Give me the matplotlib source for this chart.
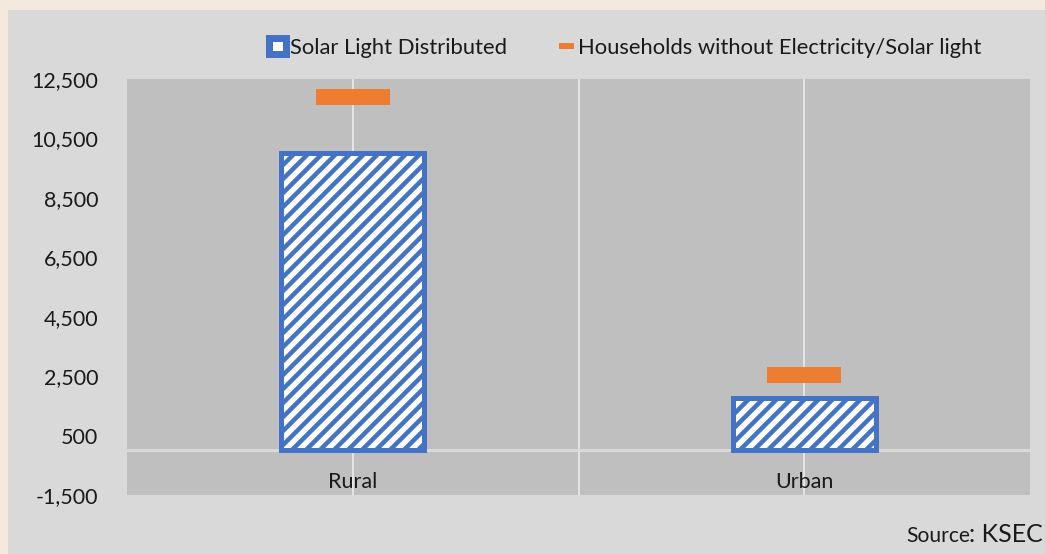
import matplotlib.pyplot as plt
from matplotlib.lines import Line2D
from matplotlib.patches import Rectangle

categories = ["Rural", "Urban"]
solar_distributed = [10000, 1750]
households_without = [11900, 2550]
y_ticks = [-1500, 500, 2500, 4500, 6500, 8500, 10500, 12500]

DPI = 84
W, H = 1045, 554
BLUE = "#4472c4"
ORANGE = "#ed7d31"
TEXT = "#1a1a1a"


def px(v):
    """pixels -> points at the figure dpi"""
    return v * 72 / DPI


plt.rcParams["font.family"] = ["Lato", "DejaVu Sans"]
plt.rcParams["hatch.linewidth"] = px(4.5)

fig = plt.figure(figsize=(W / DPI, H / DPI), dpi=DPI, facecolor="#f3e9df")
# chart area panel
fig.patches.append(Rectangle((8 / W, 0), 1 - 8 / W, 1 - 10 / H, transform=fig.transFigure,
                             facecolor="#d9d9d9", edgecolor="none", zorder=-5))

ax = fig.add_axes([127 / W, 1 - 495 / H, 903 / W, 416 / H])
ax.set_facecolor("#bfbfbf")
ax.set_axisbelow(True)

x = list(range(len(categories)))

ax.bar(x, solar_distributed, width=0.317, color="white", edgecolor=BLUE,
       hatch="//", linewidth=px(5), zorder=3)
ax.plot(x, households_without, linestyle="none", marker="_", markersize=px(74),
        markeredgewidth=px(16), color=ORANGE, zorder=4)
ax.axhline(0, color="#d9d9d9", linewidth=px(3), zorder=2)

ax.set_xlim(-0.5, 1.5)
ax.set_ylim(-1500, 12500)
ax.set_yticks(y_ticks, [f"{v:,}" for v in y_ticks])
ax.set_xticks(x, categories)
ax.set_xticks([0.5], minor=True)
ax.grid(axis="x", which="both", color="#e4e4e4", linewidth=px(2))
ax.tick_params(axis="y", length=0, pad=px(29), labelsize=px(21.5), labelcolor=TEXT)
ax.tick_params(axis="x", which="both", length=0, pad=-px(23), labelsize=px(21.5), labelcolor=TEXT)
for s in ax.spines.values():
    s.set_visible(False)

handles = [
    Rectangle((0, 0), 1, 1, facecolor="white", edgecolor=BLUE, linewidth=px(7)),
    Line2D([], [], linestyle="none", marker="_", markersize=px(15),
           markeredgewidth=px(6), color=ORANGE),
]
fig.legend(handles, ["Solar Light Distributed", "Households without Electricity/Solar light"],
           loc="center left", bbox_to_anchor=(269 / W, 1 - 48 / H), ncol=2,
           frameon=False, fontsize=px(22), labelcolor=TEXT, borderpad=0,
           borderaxespad=0, handlelength=0.75, handleheight=0.75,
           handletextpad=0.2, columnspacing=2.3)

fig.text(906 / W, 1 - 541.7 / H, "Source", fontsize=px(21), color=TEXT, va="baseline")
fig.text(969 / W, 1 - 541.7 / H, ": KSEC", fontsize=px(25), color=TEXT, va="baseline")

fig.savefig("out.png", dpi=DPI, facecolor=fig.get_facecolor())
